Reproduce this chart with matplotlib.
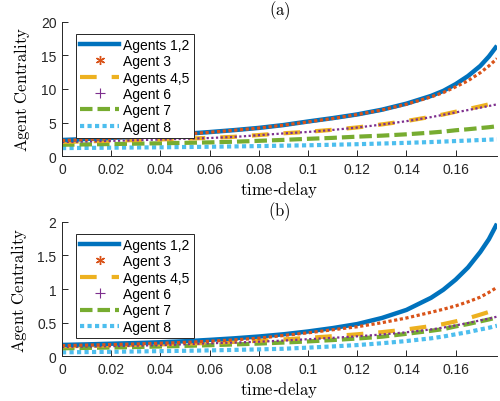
import matplotlib
matplotlib.use("Agg")
import matplotlib.pyplot as plt
from matplotlib.lines import Line2D

plt.rcParams['font.family'] = ['Liberation Sans', 'DejaVu Sans']
plt.rcParams['mathtext.fontset'] = 'cm'

# time-delay samples
tau = [0, 0.01, 0.02, 0.03, 0.04, 0.05, 0.06, 0.07, 0.08, 0.09, 0.10, 0.11,
       0.12, 0.13, 0.14, 0.15, 0.155, 0.16, 0.165, 0.17, 0.1735, 0.1768]

# panel (a)
a_12 = [2.40, 2.55, 2.72, 2.90, 3.10, 3.32, 3.58, 3.87, 4.20, 4.62, 5.15, 5.65,
        6.20, 6.90, 7.80, 8.95, 9.70, 10.70, 11.90, 13.40, 14.80, 16.40]
a_3 = [2.32, 2.47, 2.65, 2.84, 3.05, 3.28, 3.55, 3.85, 4.18, 4.60, 5.10, 5.60,
       6.18, 6.86, 7.72, 8.80, 9.45, 10.30, 11.20, 12.40, 13.40, 14.50]
a_45 = [2.12, 2.20, 2.29, 2.39, 2.49, 2.60, 2.72, 2.88, 3.14, 3.40, 3.62, 3.92,
        4.27, 4.72, 5.22, 5.85, 6.20, 6.60, 7.00, 7.40, 7.70, 7.95]
a_6 = [2.10, 2.18, 2.27, 2.37, 2.47, 2.58, 2.70, 2.86, 3.12, 3.38, 3.60, 3.90,
       4.25, 4.70, 5.20, 5.80, 6.15, 6.50, 6.85, 7.20, 7.45, 7.70]
a_7 = [1.70, 1.75, 1.80, 1.86, 1.92, 1.98, 2.05, 2.15, 2.28, 2.42, 2.58, 2.72,
       2.90, 3.05, 3.25, 3.50, 3.65, 3.85, 4.00, 4.18, 4.30, 4.45]
a_8 = [1.20, 1.23, 1.26, 1.29, 1.32, 1.36, 1.40, 1.45, 1.50, 1.56, 1.62, 1.70,
       1.78, 1.88, 1.98, 2.10, 2.17, 2.25, 2.32, 2.40, 2.45, 2.50]

# panel (b)
b_12 = [0.170, 0.178, 0.188, 0.198, 0.210, 0.225, 0.245, 0.268, 0.295, 0.328, 0.370, 0.420,
        0.480, 0.570, 0.690, 0.870, 0.990, 1.140, 1.320, 1.550, 1.740, 1.970]
b_3 = [0.160, 0.167, 0.175, 0.184, 0.195, 0.208, 0.225, 0.245, 0.270, 0.310, 0.350, 0.395,
       0.440, 0.500, 0.570, 0.655, 0.700, 0.750, 0.810, 0.880, 0.950, 1.025]
b_45 = [0.150, 0.156, 0.163, 0.170, 0.178, 0.188, 0.200, 0.215, 0.232, 0.252, 0.275, 0.300,
        0.328, 0.360, 0.400, 0.450, 0.480, 0.520, 0.565, 0.620, 0.660, 0.700]
b_6 = [0.140, 0.146, 0.152, 0.159, 0.167, 0.180, 0.195, 0.205, 0.218, 0.235, 0.255, 0.275,
       0.298, 0.325, 0.358, 0.400, 0.428, 0.460, 0.495, 0.535, 0.560, 0.590]
b_7 = [0.120, 0.126, 0.132, 0.139, 0.147, 0.156, 0.166, 0.177, 0.190, 0.205, 0.222, 0.242,
       0.265, 0.292, 0.335, 0.380, 0.405, 0.445, 0.480, 0.520, 0.548, 0.580]
b_8 = [0.060, 0.064, 0.068, 0.073, 0.078, 0.083, 0.089, 0.096, 0.104, 0.113, 0.130, 0.148,
       0.168, 0.195, 0.228, 0.268, 0.295, 0.328, 0.360, 0.400, 0.425, 0.455]

labels = ['Agents 1,2', 'Agent 3', 'Agents 4,5', 'Agent 6', 'Agent 7', 'Agent 8']
colors = ['#0072BD', '#D95319', '#EDB120', '#7E2F8E', '#77AC30', '#4DBEEE']
xticks = [0, 0.02, 0.04, 0.06, 0.08, 0.1, 0.12, 0.14, 0.16]
xticklabels = ['0', '0.02', '0.04', '0.06', '0.08', '0.1', '0.12', '0.14', '0.16']

fig = plt.figure(figsize=(5.0, 4.02), dpi=100)
ax1 = fig.add_axes([0.124, 0.609, 0.870, 0.335])
ax2 = fig.add_axes([0.124, 0.111, 0.870, 0.335])


def draw(ax, series, ymax, yticks, yticklabels, title):
    s12, s3, s45, s6, s7, s8 = series
    ax.plot(tau, s8, color=colors[5], lw=3, linestyle=(0, (1, 0.8)), dash_capstyle='butt')
    ax.plot(tau, s7, color=colors[4], lw=3, linestyle=(0, (3.0, 1.2)), dash_capstyle='butt')
    ax.plot(tau, s45, color=colors[2], lw=3, linestyle=(0, (4.0, 3.6)), dash_capstyle='butt')
    ax.plot(tau, s6, color=colors[3], lw=1.6, linestyle=(0, (1, 1.1)), dash_capstyle='butt')
    ax.plot(tau, s12, color=colors[0], lw=3.2, solid_capstyle='butt')
    ax.plot(tau, s3, color=colors[1], lw=2.3, linestyle=(0, (1, 0.8)), dash_capstyle='butt')

    ax.set_xlim(0, 0.1768)
    ax.set_ylim(0, ymax)
    ax.set_xticks(xticks)
    ax.set_xticklabels(xticklabels)
    ax.set_yticks(yticks)
    ax.set_yticklabels(yticklabels)
    for sp in ['top', 'right']:
        ax.spines[sp].set_visible(False)
    for sp in ['left', 'bottom']:
        ax.spines[sp].set_color('#262626')
        ax.spines[sp].set_linewidth(0.7)
    ax.tick_params(direction='in', length=4, width=0.7, colors='#262626',
                   labelsize=10, pad=4)
    ax.set_title(r'$\mathrm{' + title + '}$', fontsize=12, pad=5)
    ax.set_xlabel(r'$\mathrm{time}$-$\mathrm{delay}$', fontsize=12, labelpad=2)
    ax.set_ylabel(r'$\mathrm{Agent\ Centrality}$', fontsize=12, labelpad=6)

    handles = [
        Line2D([], [], color=colors[0], lw=3.2),
        Line2D([], [], color=colors[1], ls='none', marker=(6, 2, 0), ms=6.5, mew=1.0),
        Line2D([], [], color=colors[2], lw=3, linestyle=(0, (4.0, 3.6))),
        Line2D([], [], color=colors[3], ls='none', marker='+', ms=7, mew=0.8),
        Line2D([], [], color=colors[4], lw=3, linestyle=(0, (3.0, 1.2))),
        Line2D([], [], color=colors[5], lw=3, linestyle=(0, (1, 0.8))),
    ]
    leg = ax.legend(handles, labels, loc='upper left', bbox_to_anchor=(0.032, 0.91),
                    borderaxespad=0, fontsize=10, handlelength=2.8, handletextpad=0.3,
                    labelspacing=0.17, borderpad=0.3, fancybox=False, framealpha=1)
    leg.get_frame().set_edgecolor('#262626')
    leg.get_frame().set_linewidth(0.7)


draw(ax1, [a_12, a_3, a_45, a_6, a_7, a_8], 20, [0, 5, 10, 15, 20],
     ['0', '5', '10', '15', '20'], '(a)')
draw(ax2, [b_12, b_3, b_45, b_6, b_7, b_8], 2, [0, 0.5, 1, 1.5, 2],
     ['0', '0.5', '1', '1.5', '2'], '(b)')

fig.savefig('out.png', dpi=100)
